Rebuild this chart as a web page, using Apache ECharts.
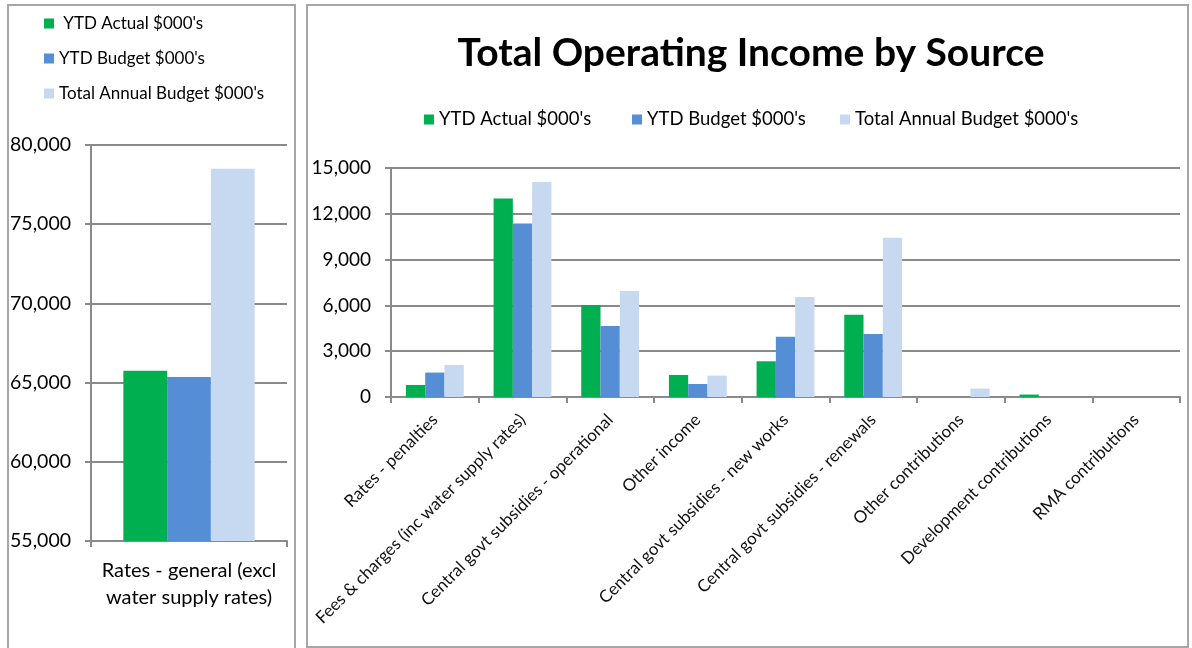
<!DOCTYPE html>
<html><head><meta charset="utf-8">
<script src="https://cdn.jsdelivr.net/npm/echarts@6/dist/echarts.min.js"></script>
<style>html,body{margin:0;padding:0;background:#fff}#c{width:1192px;height:648px}</style>
</head><body><div id="c"></div>
<script>
const seriesNames = ["YTD Actual $000's", "YTD Budget $000's", "Total Annual Budget $000's"];
const colors = ['#00B050', '#558ED5', '#C6D9F1'];

const leftCategories = ['Rates - general (excl\nwater supply rates)'];
const leftActual = [65750];
const leftBudget = [65350];
const leftAnnual = [78500];
const leftTicks = [55000, 80000, 5000];

const categories = ['Rates - penalties', 'Fees & charges (inc water supply rates)', 'Central govt subsidies - operational', 'Other income', 'Central govt subsidies - new works', 'Central govt subsidies - renewals', 'Other contributions', 'Development contributions', 'RMA contributions'];
const ytdActual = [790, 13000, 6030, 1440, 2340, 5390, 0, 160, 0];
const ytdBudget = [1600, 11370, 4650, 850, 3950, 4130, 0, 0, 0];
const annualBudget = [2100, 14080, 6950, 1400, 6550, 10430, 550, 0, 0];
const rightTicks = [0, 15000, 3000];

const FONT = 'Lato';
const gray = '#8a8a8a';
const fmt = v => v.toLocaleString('en-US');

const chart = echarts.init(document.getElementById('c'), null, {renderer: 'canvas'});
const leftData = [leftActual, leftBudget, leftAnnual];
const rightData = [ytdActual, ytdBudget, annualBudget];
const series = [];
seriesNames.forEach((n, i) => {
  series.push({name: n, type: 'bar', xAxisIndex: 0, yAxisIndex: 0, data: leftData[i], barGap: '0%', barCategoryGap: '33%', itemStyle: {color: colors[i]}, animation: false});
});
seriesNames.forEach((n, i) => {
  series.push({name: n, type: 'bar', xAxisIndex: 1, yAxisIndex: 1, data: rightData[i], barGap: '0%', barCategoryGap: '34%', itemStyle: {color: colors[i]}, animation: false});
});

const rightLegendLefts = [424, 632, 840];
const legends = [
  {orient: 'vertical', left: 44, top: 15, padding: 0, itemWidth: 10, itemHeight: 10, itemGap: 18, data: seriesNames,
    icon: 'rect', textStyle: {fontFamily: FONT, fontSize: 17, color: '#000'},
    formatter: n => n === seriesNames[0] ? ' ' + n : n}
];
seriesNames.forEach((n, i) => {
  legends.push({orient: 'horizontal', left: rightLegendLefts[i], top: 110, padding: 0, itemWidth: 10, itemHeight: 10,
    data: [n], icon: 'rect', textStyle: {fontFamily: FONT, fontSize: 18.5, color: '#000'}});
});

chart.setOption({
  animation: false,
  color: colors,
  textStyle: {fontFamily: FONT},
  title: {text: 'Total Operating Income by Source', left: 751, top: 34, textAlign: 'center', padding: 0,
    textStyle: {fontFamily: FONT, fontSize: 39, fontWeight: 'bold', color: '#000'}},
  legend: legends,
  grid: [
    {left: 91, top: 145, width: 196, height: 396, containLabel: false},
    {left: 391, top: 168, width: 789, height: 229, containLabel: false}
  ],
  xAxis: [
    {type: 'category', gridIndex: 0, data: leftCategories,
      axisLine: {lineStyle: {color: gray, width: 2}},
      axisTick: {show: true, length: 6, lineStyle: {color: gray, width: 2}},
      axisLabel: {fontFamily: FONT, fontSize: 20, color: '#000', margin: 16, lineHeight: 27}},
    {type: 'category', gridIndex: 1, data: categories,
      axisLine: {lineStyle: {color: gray, width: 2}},
      axisTick: {show: true, length: 6, lineStyle: {color: gray, width: 2}},
      axisLabel: {fontFamily: FONT, fontSize: 17, color: '#111', rotate: 45, margin: 20, interval: 0}}
  ],
  yAxis: [
    {type: 'value', gridIndex: 0, min: leftTicks[0], max: leftTicks[1], interval: leftTicks[2],
      axisLine: {show: true, lineStyle: {color: gray, width: 2}},
      axisTick: {show: true, length: 6, lineStyle: {color: gray, width: 2}},
      splitLine: {lineStyle: {color: gray, width: 2}},
      axisLabel: {fontFamily: FONT, fontSize: 19.5, color: '#000', margin: 20, formatter: fmt}},
    {type: 'value', gridIndex: 1, min: rightTicks[0], max: rightTicks[1], interval: rightTicks[2],
      axisLine: {show: true, lineStyle: {color: gray, width: 2}},
      axisTick: {show: true, length: 6, lineStyle: {color: gray, width: 2}},
      splitLine: {lineStyle: {color: gray, width: 2}},
      axisLabel: {fontFamily: FONT, fontSize: 19, color: '#000', margin: 20, formatter: fmt}}
  ],
  graphic: [
    {type: 'rect', shape: {x: 8, y: 5, width: 287, height: 660}, style: {fill: 'none', stroke: '#a6a6a6', lineWidth: 2}, silent: true},
    {type: 'rect', shape: {x: 307, y: 5, width: 881, height: 642}, style: {fill: 'none', stroke: '#a6a6a6', lineWidth: 2}, silent: true}
  ],
  series: series
});
</script></body></html>
